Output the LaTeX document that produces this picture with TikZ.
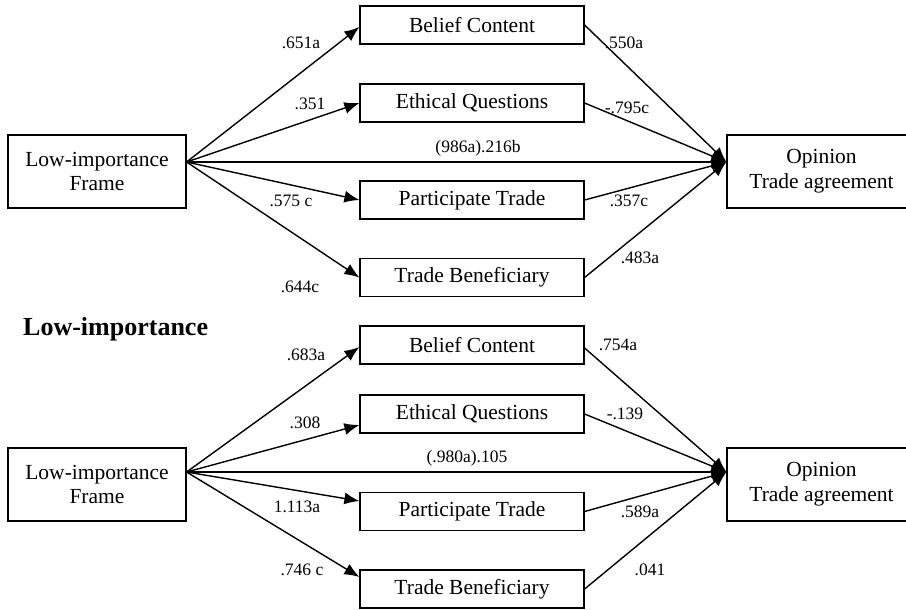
\documentclass[tikz,border=0pt]{standalone}
\usepackage{fontspec}
\setmainfont{Liberation Serif}
\usetikzlibrary{arrows.meta}
\begin{document}
\begin{tikzpicture}[x=1pt,y=-1pt,
 box/.style={draw, line width=1.2pt, inner sep=0pt, font=\fontsize{21.5}{24.7}\selectfont, align=center},
 mid/.style={box, minimum width=224pt, minimum height=38pt},
 big/.style={box, minimum width=178pt, minimum height=73pt},
 lab/.style={inner sep=0pt, font=\fontsize{17.5}{20}\selectfont},
 arr/.style={line width=1.4pt, -{Latex[length=15pt,width=12pt]}}]
\useasboundingbox (0,0) rectangle (906,610);
% ---------- top panel ----------
\node[big] (L1) at (97,171.5) {Low-importance\\Frame};
\node[big, minimum width=189pt] (R1) at (821.5,171.5) {Opinion\\Trade agreement};
\node[mid] (B1) at (472,25) {Belief Content};
\node[mid] (E1) at (472,103) {Ethical Questions};
\node[mid] (P1) at (472,200) {Participate Trade};
\node[mid] (T1) at (472,277.5) {Trade Beneficiary};
\coordinate (o1) at ([yshift=9.5pt]L1.east);
\coordinate (t1) at ([yshift=9.5pt]R1.west);
\draw[arr] (o1) -- ([yshift=-2pt]B1.west);
\draw[arr] (o1) -- (E1.west);
\draw[arr] (o1) -- (P1.west);
\draw[arr] (o1) -- (T1.west);
\draw[arr] (o1) -- (t1);
\draw[arr] (B1.east) -- (t1);
\draw[arr] (E1.east) -- (t1);
\draw[arr] (P1.east) -- (t1);
\draw[arr] (T1.east) -- (t1);
\node[lab] (a1) at (301,43) {.651a};
\node[lab] (a2) at (310,104) {.351};
\node[lab] (a3) at (478,148) {(986a).216b};
\node[lab] (a4) at (291,201) {.575 c};
\node[lab] (a5) at (300,287) {.644c};
\node[lab] (a6) at (624,43) {.550a};
\node[lab] (a7) at (627,108) {-.795c};
\node[lab] (a8) at (629,201) {.357c};
\node[lab] (a9) at (640,258) {.483a};
% ---------- title ----------
\node[anchor=base west, inner sep=0pt, font=\fontsize{26}{30}\selectfont\bfseries] (title) at (23,335) {Low-importance};
% ---------- bottom panel ----------
\node[big] (L2) at (97,484.5) {Low-importance\\Frame};
\node[big, minimum width=189pt] (R2) at (821.5,484.5) {Opinion\\Trade agreement};
\node[mid] (B2) at (472,345) {Belief Content};
\node[mid] (E2) at (472,414) {Ethical Questions};
\node[mid] (P2) at (472,511.5) {Participate Trade};
\node[mid] (T2) at (472,589) {Trade Beneficiary};
\coordinate (o2) at ([yshift=12.5pt]L2.east);
\coordinate (t2) at ([yshift=12.5pt]R2.west);
\draw[arr] (o2) -- ([yshift=-2pt]B2.west);
\draw[arr] (o2) -- ([yshift=-11pt]E2.west);
\draw[arr] (o2) -- ([yshift=10.5pt]P2.west);
\draw[arr] (o2) -- ([yshift=12pt]T2.west);
\draw[arr] (o2) -- (t2);
\draw[arr] ([yshift=-3pt]B2.east) -- (t2);
\draw[arr] (E2.east) -- (t2);
\draw[arr] (P2.east) -- (t2);
\draw[arr] (T2.east) -- (t2);
\node[lab] (b1) at (306,355) {.683a};
\node[lab] (b2) at (305,423) {.308};
\node[lab] (b3) at (467,458) {(.980a).105};
\node[lab] (b4) at (297,507) {1.113a};
\node[lab] (b5) at (302,570) {.746 c};
\node[lab] (b6) at (618,345) {.754a};
\node[lab] (b7) at (625,414) {-.139};
\node[lab] (b8) at (640,512) {.589a};
\node[lab] (b9) at (650,570) {.041};
\end{tikzpicture}
\end{document}
